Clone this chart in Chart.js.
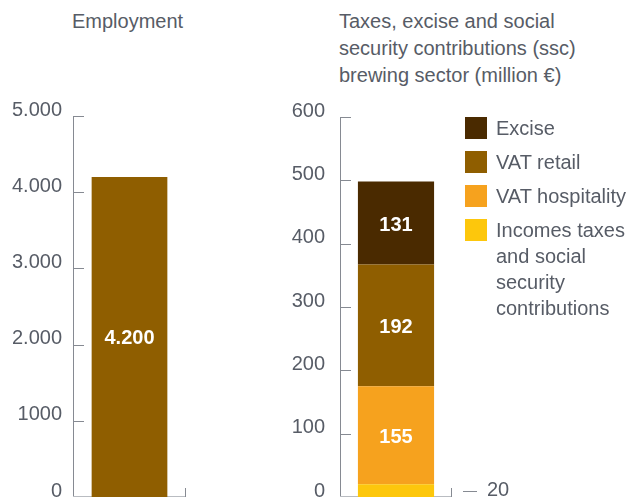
<!DOCTYPE html>
<html>
<head>
<meta charset="utf-8">
<script src="https://cdn.jsdelivr.net/npm/chart.js@4.4.0/dist/chart.umd.min.js"></script>
<style>
  html, body { margin: 0; padding: 0; background: #fff; }
  body {
    width: 632px; height: 497px; position: relative; overflow: hidden;
    font-family: "Liberation Sans", Arial, sans-serif; color: #575c66;
  }
  .title { position: absolute; top: 8px; font-size: 20px; line-height: 27px; white-space: pre-line; }
  canvas { position: absolute; top: 0; }
  #legend { position: absolute; left: 465px; top: 115px; font-size: 20px; z-index: 2; }
  .row { position: relative; padding-left: 31px; line-height: 26px; margin-bottom: 8px; white-space: pre-line; }
  .swatch { position: absolute; left: 0; top: 2px; width: 22px; height: 22px; }
</style>
</head>
<body>
<div class="title" style="left:72px">Employment</div>
<div class="title" style="left:339px">Taxes, excise and social
security contributions (ssc)
brewing sector (million €)</div>

<canvas id="employment" width="220" height="497" style="left:0"></canvas>
<canvas id="taxes" width="352" height="497" style="left:280px"></canvas>
<div id="legend"></div>

<script>
// employment panel
const employmentCategories = ['Employment'];
const employmentValues = [4200];
const employmentTicks = ['0', '1000', '2.000', '3.000', '4.000', '5.000'];

// taxes panel, stacked bottom to top
const taxCategories = ['Brewing sector'];
const taxSeries = ['Incomes taxes\nand social\nsecurity\ncontributions', 'VAT hospitality', 'VAT retail', 'Excise'];
const taxValues = [20, 155, 192, 131];
const taxTicks = ['0', '100', '200', '300', '400', '500', '600'];

const taxColors = ['#fdc70c', '#f6a21e', '#8f5e00', '#4a2a00'];
const FONT = '"Liberation Sans", Arial, sans-serif';
const TEXT = '#575c66';
const AXIS = '#868a92';
const fmt = v => v.toLocaleString('de-DE');

// short inward ticks + base line with end mark
const axisMarks = {
  id: 'axisMarks',
  beforeDatasetsDraw(chart) {
    const { ctx, chartArea: a, scales: { y } } = chart;
    ctx.save();
    ctx.lineWidth = 1;
    ctx.strokeStyle = AXIS;
    y.ticks.forEach((t, i) => {
      if (i === 0) return;
      const py = Math.round(y.getPixelForTick(i)) + 0.5;
      ctx.beginPath();
      ctx.moveTo(a.left, py);
      ctx.lineTo(a.left + 11, py);
      ctx.stroke();
    });
    ctx.strokeStyle = '#b9bcc1';
    ctx.beginPath();
    ctx.moveTo(a.left, a.bottom - 0.5);
    ctx.lineTo(a.right, a.bottom - 0.5);
    ctx.stroke();
    ctx.strokeStyle = AXIS;
    ctx.beginPath();
    ctx.moveTo(a.right - 0.5, a.bottom);
    ctx.lineTo(a.right - 0.5, a.bottom - 9);
    ctx.stroke();
    ctx.restore();
  }
};

// values inside the segments, small ones get a leader outside
const barLabels = {
  id: 'barLabels',
  afterDatasetsDraw(chart, args, opts) {
    const { ctx, chartArea: a } = chart;
    ctx.save();
    ctx.textBaseline = 'middle';
    chart.data.datasets.forEach((ds, di) => {
      chart.getDatasetMeta(di).data.forEach((bar, i) => {
        const v = ds.data[i];
        const cy = (bar.y + bar.base) / 2;
        if (v < opts.minInside) {
          ctx.strokeStyle = AXIS;
          ctx.lineWidth = 1;
          ctx.beginPath();
          ctx.moveTo(a.right + 11, Math.round(cy) + 0.5);
          ctx.lineTo(a.right + 25, Math.round(cy) + 0.5);
          ctx.stroke();
          ctx.fillStyle = TEXT;
          ctx.font = '20px ' + FONT;
          ctx.textAlign = 'left';
          ctx.fillText(fmt(v), a.right + 35, cy);
        } else {
          ctx.fillStyle = '#ffffff';
          ctx.font = 'bold 20px ' + FONT;
          ctx.textAlign = 'center';
          ctx.fillText(fmt(v), bar.x, cy + 2);
        }
      });
    });
    ctx.restore();
  }
};

function yScale(max, step, labels, width, pad) {
  return {
    min: 0, max: max, stacked: true,
    grid: { display: false, drawTicks: false },
    border: { display: true, color: AXIS, width: 1 },
    ticks: {
      stepSize: step, padding: pad, labelOffset: -6,
      color: TEXT, font: { family: FONT, size: 20 },
      callback: (v, i) => labels[i]
    },
    afterFit(s) { s.width = width; s.paddingTop = 0; s.paddingBottom = 0; }
  };
}

new Chart(document.getElementById('employment'), {
  type: 'bar',
  data: {
    labels: employmentCategories,
    datasets: [{ data: employmentValues, backgroundColor: '#8f5e00', barPercentage: 0.67, categoryPercentage: 1 }]
  },
  options: {
    responsive: false, animation: false,
    layout: { padding: { left: 0, right: 34, top: 116, bottom: 0 } },
    plugins: { legend: { display: false }, tooltip: { enabled: false }, barLabels: { minInside: 0 } },
    scales: { x: { display: false }, y: yScale(5000, 1000, employmentTicks, 73, 11) }
  },
  plugins: [axisMarks, barLabels]
});

new Chart(document.getElementById('taxes'), {
  type: 'bar',
  data: {
    labels: taxCategories,
    datasets: taxSeries.map((name, i) => ({
      label: name, data: [taxValues[i]], backgroundColor: taxColors[i],
      barPercentage: 0.68, categoryPercentage: 1
    }))
  },
  options: {
    responsive: false, animation: false,
    layout: { padding: { left: 0, right: 180, top: 117, bottom: 0 } },
    plugins: { legend: { display: false }, tooltip: { enabled: false }, barLabels: { minInside: 50 } },
    scales: { x: { display: false, stacked: true }, y: yScale(600, 100, taxTicks, 60, 15) }
  },
  plugins: [axisMarks, barLabels]
});

// legend, top of stack first
const legend = document.getElementById('legend');
taxSeries.map((name, i) => i).reverse().forEach(i => {
  const row = document.createElement('div');
  row.className = 'row';
  row.innerHTML = '<span class="swatch" style="background:' + taxColors[i] + '"></span>';
  row.appendChild(document.createTextNode(taxSeries[i]));
  legend.appendChild(row);
});
</script>
</body>
</html>
